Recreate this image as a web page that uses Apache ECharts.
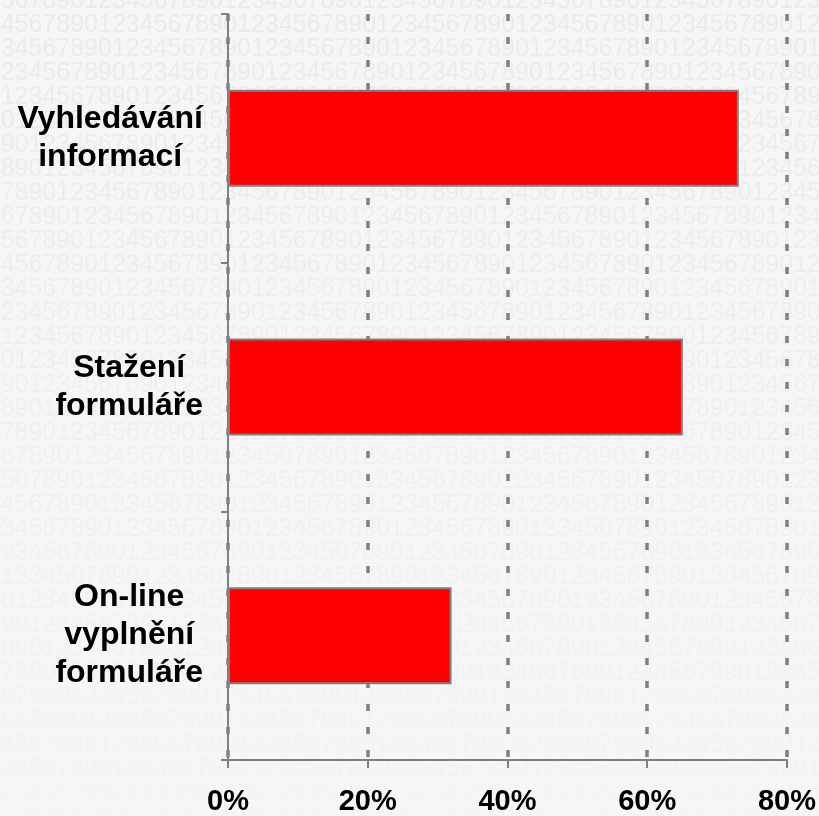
<!DOCTYPE html>
<html>
<head>
<meta charset="utf-8">
<script src="https://cdn.jsdelivr.net/npm/echarts@6/dist/echarts.min.js"></script>
<style>
html,body{margin:0;padding:0;background:#f6f6f6;}
#c{width:819px;height:816px;}
</style>
</head>
<body>
<div id="c"></div>
<script>
const categories = ['Vyhledávání\ninformací', 'Stažení\nformuláře', 'On-line\nvyplnění\nformuláře'];
const values = [73.1, 65.1, 32.0];
const tickLabels = ['0%', '20%', '40%', '60%', '80%'];

const chart = echarts.init(document.getElementById('c'), null, {renderer: 'canvas'});

// decorative digit watermark in the background (fades towards the bottom)
const bg = [];
const dw = 13.9;
for (let i = 0; i < 36; i++) {
  const shift = ((i * dw) % (10 * dw)) - 10 * dw - 55 + 10 * dw;
  const t = Math.min(1, i / 34);
  const g = Math.round(0xea + (0xf4 - 0xea) * t);
  const col = 'rgb(' + g + ',' + g + ',' + g + ')';
  bg.push({
    type: 'text', silent: true, z: -10,
    x: shift - 10 * dw, y: -11 + i * 24,
    style: {text: '1234567890'.repeat(8), fill: col, fontSize: 25,
            fontFamily: 'Liberation Sans', verticalAlign: 'top', align: 'left'}
  });
}

chart.setOption({
  backgroundColor: '#f6f6f6',
  animation: false,
  graphic: bg,
  grid: {left: 228, right: 31, top: 14, bottom: 56, containLabel: false},
  xAxis: {
    type: 'value', min: 0, max: 80, interval: 20,
    axisLine: {show: true, lineStyle: {color: '#808080', width: 2}},
    axisTick: {show: true, length: 8, lineStyle: {color: '#808080', width: 2}},
    axisLabel: {
      margin: 27, color: '#000', fontSize: 29, fontWeight: 'bold',
      fontFamily: '"Liberation Sans", Arial, sans-serif',
      formatter: v => tickLabels[Math.round(v / 20)]
    },
    splitLine: {show: true, lineStyle: {color: '#808080', width: 3.5, type: [7, 16]}}
  },
  yAxis: {
    type: 'category', data: categories, inverse: true,
    axisLine: {show: true, lineStyle: {color: '#808080', width: 2}},
    axisTick: {show: true, length: 7, alignWithLabel: false, lineStyle: {color: '#808080', width: 2}},
    axisLabel: {
      margin: 25, align: 'right', interval: 0,
      formatter: v => v.split('\n').map(l => '{c|' + l + '}').join('\n'),
      rich: {
        c: {align: 'center', color: '#000', fontSize: 32, fontWeight: 'bold', lineHeight: 38,
            fontFamily: '"Liberation Sans", Arial, sans-serif'}
      }
    },
    splitLine: {show: false}
  },
  series: [{
    type: 'bar', data: values, barWidth: '39%',
    itemStyle: {color: '#ff0000', borderColor: '#808080', borderWidth: 2},
    z: 5
  }]
});
</script>
</body>
</html>
